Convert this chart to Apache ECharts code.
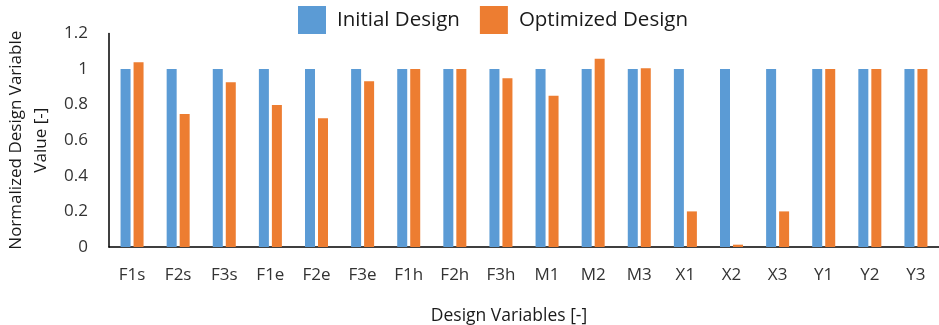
<!DOCTYPE html>
<html>
<head>
<meta charset="utf-8">
<script src="https://cdn.jsdelivr.net/npm/echarts@6/dist/echarts.min.js"></script>
<style>
  html, body { margin: 0; padding: 0; background: #fff; }
  #chart { width: 939px; height: 325px; }
</style>
</head>
<body>
<div id="chart"></div>
<script>
// Design variable names along the x axis
const categories = ['F1s', 'F2s', 'F3s', 'F1e', 'F2e', 'F3e', 'F1h', 'F2h', 'F3h',
                    'M1', 'M2', 'M3', 'X1', 'X2', 'X3', 'Y1', 'Y2', 'Y3'];

// Normalized values for each design
const initialDesign   = [1, 1, 1, 1, 1, 1, 1, 1, 1, 1, 1, 1, 1, 1, 1, 1, 1, 1];
const optimizedDesign = [1.038, 0.747, 0.925, 0.798, 0.723, 0.931, 1.0, 1.0, 0.948,
                         0.85, 1.058, 1.004, 0.2, 0.013, 0.2, 1.0, 1.0, 1.0];

const font = '"Open Sans", "Noto Sans", sans-serif';

const chart = echarts.init(document.getElementById('chart'));
chart.setOption({
  animation: false,
  textStyle: { fontFamily: font },
  legend: {
    top: 1,
    left: 293,
    itemWidth: 28,
    itemHeight: 28,
    itemGap: 20,
    icon: 'rect',
    textStyle: { fontSize: 20.5, color: '#1a1a1a', fontFamily: font, padding: [0, 0, 0, 6] },
    data: ['Initial Design', 'Optimized Design']
  },
  grid: {
    left: 109, right: 0, top: 33.4, bottom: 78,
    containLabel: false,
    outerBoundsMode: 'none'
  },
  xAxis: {
    type: 'category',
    data: categories,
    name: 'Design Variables [-]',
    nameLocation: 'middle',
    nameGap: 60,
    nameTextStyle: { fontSize: 17.5, color: '#1a1a1a', fontFamily: font, padding: [0, 30, 0, 0] },
    axisLine: { lineStyle: { color: '#000', width: 1.5 } },
    axisTick: { show: false },
    axisLabel: { fontSize: 17, color: '#333', margin: 20, fontFamily: font }
  },
  yAxis: {
    type: 'value',
    min: 0,
    max: 1.2,
    interval: 0.2,
    name: 'Normalized Design Variable\nValue [-]',
    nameLocation: 'middle',
    nameGap: 54,
    nameTextStyle: { fontSize: 17, color: '#1a1a1a', lineHeight: 25, fontFamily: font },
    axisLine: { show: true, lineStyle: { color: '#000', width: 1.5 } },
    axisTick: { show: false },
    splitLine: { show: false },
    axisLabel: {
      fontSize: 17, color: '#333', margin: 21, fontFamily: font,
      formatter: v => String(Math.round(v * 10) / 10)
    }
  },
  series: [
    {
      name: 'Initial Design',
      type: 'bar',
      data: initialDesign,
      barWidth: 10,
      barGap: '30%',
      itemStyle: { color: '#5B9BD5' }
    },
    {
      name: 'Optimized Design',
      type: 'bar',
      data: optimizedDesign,
      barWidth: 10,
      itemStyle: { color: '#ED7D31' }
    }
  ]
});
</script>
</body>
</html>
